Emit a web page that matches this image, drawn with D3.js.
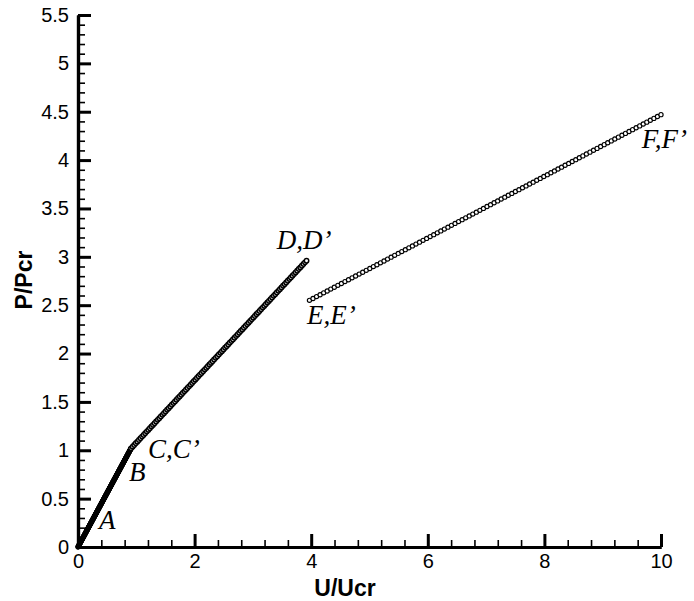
<!DOCTYPE html>
<html>
<head>
<meta charset="utf-8">
<script src="https://cdn.jsdelivr.net/npm/d3@7"></script>
<style>
  html, body { margin: 0; padding: 0; background: #fff; }
  svg { display: block; }
</style>
</head>
<body>
<svg id="chart" width="694" height="601"></svg>
<script>
// Load–displacement path, normalised by the critical values.
// Pre-buckling branch O–A–B–C
const preU = [0, 0.91];
const preP = [0, 1.02];
// Post-buckling branch C–D
const postU = [0.91, 3.92];
const postP = [1.02, 2.96];
// Branch after the jump, E–F
const jumpU = [3.97, 10.0];
const jumpP = [2.55, 4.47];

// Axis ticks
const xMajorTicks = [0, 2, 4, 6, 8, 10];
const yMajorTicks = [0, 0.5, 1, 1.5, 2, 2.5, 3, 3.5, 4, 4.5, 5, 5.5];

// Point annotations (text, anchor in data units)
const pointLabels = ["A", "B", "C,C\u2019", "D,D\u2019", "E,E\u2019", "F,F\u2019"];
const labelU = [0.36, 0.875, 1.20, 3.41, 3.93, 9.67];
const labelP = [0.186, 0.683, 0.92, 3.08, 2.31, 4.13];

const svg = d3.select("#chart");
const W = 694, H = 601;
const margin = { left: 78, right: 33, top: 15, bottom: 54 };

const x = d3.scaleLinear().domain([0, 10]).range([margin.left, W - margin.right]);
const y = d3.scaleLinear().domain([0, 5.5]).range([H - margin.bottom, margin.top]);

const axisFont = "'Liberation Sans', Arial, Helvetica, sans-serif";
const labelFont = "'Liberation Serif', 'Times New Roman', serif";

// ---- axes (ticks point inward) ----
const xMinor = d3.range(0, 10.001, 0.4).map(v => +v.toFixed(2));
const yMinor = d3.range(0, 5.501, 0.1).map(v => +v.toFixed(2));

const gx = svg.append("g").attr("transform", `translate(0,${y(0)})`);
gx.call(d3.axisBottom(x).tickValues(xMinor).tickSize(-7).tickSizeOuter(0).tickFormat(""));
gx.call(g => g.selectAll(".tick line").attr("stroke-width", 1.6));
const gxMaj = svg.append("g").attr("transform", `translate(0,${y(0)})`);
gxMaj.call(d3.axisBottom(x).tickValues(xMajorTicks).tickSize(-13).tickSizeOuter(0)
  .tickPadding(7).tickFormat(d => d));
gxMaj.selectAll(".tick line").attr("stroke-width", 3);
gxMaj.selectAll(".tick text").attr("font-family", axisFont).attr("font-size", 20).attr("fill", "#000");

const gy = svg.append("g").attr("transform", `translate(${x(0)},0)`);
gy.call(d3.axisLeft(y).tickValues(yMinor).tickSize(-7).tickSizeOuter(0).tickFormat(""));
gy.call(g => g.selectAll(".tick line").attr("stroke-width", 1.6));
const gyMaj = svg.append("g").attr("transform", `translate(${x(0)},0)`);
gyMaj.call(d3.axisLeft(y).tickValues(yMajorTicks).tickSize(-13).tickSizeOuter(0)
  .tickPadding(9).tickFormat(d => d));
gyMaj.selectAll(".tick line").attr("stroke-width", 3);
gyMaj.selectAll(".tick text").attr("font-family", axisFont).attr("font-size", 20).attr("fill", "#000");

svg.selectAll(".domain").attr("stroke", "#000").attr("stroke-width", 3.2);

// ---- axis titles ----
svg.append("text")
  .attr("x", 345)
  .attr("y", 596)
  .attr("text-anchor", "middle")
  .attr("font-family", axisFont)
  .attr("font-weight", "bold")
  .attr("font-size", 23)
  .text("U/Ucr");

svg.append("text")
  .attr("transform", `translate(32,280) rotate(-90)`)
  .attr("text-anchor", "middle")
  .attr("font-family", axisFont)
  .attr("font-weight", "bold")
  .attr("font-size", 23)
  .text("P/Pcr");

// ---- series: circle symbols strung along each branch ----
// The pre-buckling symbols are so closely packed that they merge into a solid band.
const line = d3.line().x(d => x(d[0])).y(d => y(d[1]));
const branches = [
  { u: preU, p: preP, step: 0.5, r: 2.3, sw: 1.0, fill: "#000" },
  { u: postU, p: postP, step: 2.3, r: 2.2, sw: 1.5, fill: "#fff" },
  { u: jumpU, p: jumpP, step: 4.0, r: 2.1, sw: 1.15, fill: "#fff" }
];

const plot = svg.append("g");
branches.forEach(b => {
  const pts = b.u.map((u, i) => [u, b.p[i]]);
  const path = plot.append("path")
    .attr("d", line(pts))
    .attr("fill", "none")
    .attr("stroke", "none");
  const node = path.node();
  const len = node.getTotalLength();
  const n = Math.max(1, Math.round(len / b.step));
  const spots = d3.range(n + 1).map(i => node.getPointAtLength(len * i / n));
  plot.append("g").selectAll("circle")
    .data(spots)
    .join("circle")
    .attr("cx", d => d.x)
    .attr("cy", d => d.y)
    .attr("r", b.r)
    .attr("fill", b.fill)
    .attr("stroke", "#000")
    .attr("stroke-width", b.sw);
});

// ---- point annotations ----
svg.append("g").selectAll("text")
  .data(pointLabels)
  .join("text")
  .attr("x", (d, i) => x(labelU[i]))
  .attr("y", (d, i) => y(labelP[i]))
  .attr("font-family", labelFont)
  .attr("font-style", "italic")
  .attr("font-size", 27)
  .attr("fill", "#000")
  .text(d => d);
</script>
</body>
</html>
